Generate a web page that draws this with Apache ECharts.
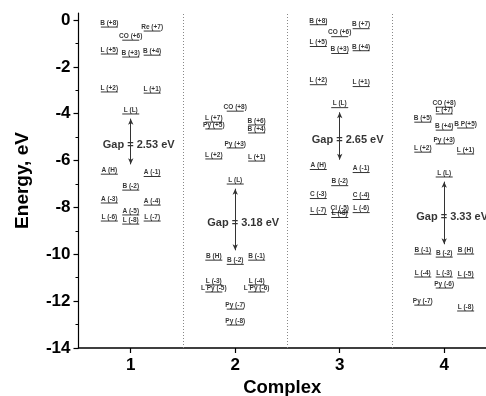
<!DOCTYPE html>
<html>
<head>
<meta charset="utf-8">
<script src="https://cdn.jsdelivr.net/npm/echarts@6/dist/echarts.min.js"></script>
<style>html,body{margin:0;padding:0;background:#fff}#c{width:486px;height:396px}</style>
</head>
<body>
<div id="c"></div>
<script>
// ---- data ----
const complexes = [1, 2, 3, 4];
const xTickLabels = ['1', '2', '3', '4'];
const yTickValues = [-14, -12, -10, -8, -6, -4, -2, 0];
const yMinorValues = [-13, -11, -9, -7, -5, -3, -1];
const gapValues = ['2.53', '3.18', '2.65', '3.33'];

// slot: -1 left column, 0 centre column, 1 right column
const c1Labels = ['B (+8)','Re (+7)','CO (+6)','L (+5)','B (+3)','B (+4)','L (+2)','L (+1)','L (L)','A (H)','A (-1)','B (-2)','A (-3)','A (-4)','A (-5)','L (-6)','L (-8)','L (-7)'];
const c1Energy = [-0.30,-0.47,-0.86,-1.45,-1.58,-1.50,-3.07,-3.12,-4.01,-6.58,-6.68,-7.26,-7.81,-7.90,-8.32,-8.58,-8.71,-8.58];
const c1Slot   = [-1,1,0,-1,0,1,-1,1,0,-1,1,0,-1,1,0,-1,0,1];

const c2Labels = ['CO (+8)','L (+7)','Py (+5)','B (+6)','B (+4)','Py (+3)','L (+2)','L (+1)','L (L)','B (H)','B (-2)','B (-1)','L (-3)','L Py (-5)','L (-4)','L Py (-6)','Py (-7)','Py (-8)'];
const c2Energy = [-3.89,-4.36,-4.65,-4.48,-4.82,-5.46,-5.93,-6.02,-7.00,-10.25,-10.43,-10.25,-11.31,-11.61,-11.31,-11.61,-12.34,-13.02];
const c2Slot   = [0,-1,-1,1,1,0,-1,1,0,-1,0,1,-1,-1,1,1,0,0];

const c3Labels = ['B (+8)','B (+7)','CO (+6)','L (+5)','B (+3)','B (+4)','L (+2)','L (+1)','L (L)','A (H)','A (-1)','B (-2)','C (-3)','C (-4)','L (-7)','Cl (-5)','L (-8)','L (-6)'];
const c3Energy = [-0.20,-0.37,-0.71,-1.13,-1.43,-1.31,-2.76,-2.84,-3.74,-6.38,-6.51,-7.07,-7.62,-7.66,-8.30,-8.22,-8.43,-8.22];
const c3Slot   = [-1,1,0,-1,0,1,-1,1,0,-1,1,0,-1,1,-1,0,0,1];

const c4Labels = ['CO (+8)','L (+7)','B (+5)','B (+4)','B P(+5)','Py (+3)','L (+2)','L (+1)','L (L)','B (-1)','B (-2)','B (H)','L (-4)','L (-3)','L (-5)','Py (-6)','Py (-7)','L (-8)'];
const c4Energy = [-3.72,-4.01,-4.36,-4.70,-4.61,-5.29,-5.64,-5.72,-6.70,-9.99,-10.12,-9.99,-10.97,-10.97,-11.01,-11.44,-12.17,-12.42];
const c4Slot   = [0,0,-1,0,1,0,-1,1,0,-1,0,1,-1,0,1,0,-1,1];

const allLabels = [c1Labels, c2Labels, c3Labels, c4Labels];
const allEnergy = [c1Energy, c2Energy, c3Energy, c4Energy];
const allSlot = [c1Slot, c2Slot, c3Slot, c4Slot];

// ---- chart ----
const SLOT_W = 0.205;
const FONT = '"Liberation Sans", Arial, sans-serif';
const series = [];
complexes.forEach((cx, i) => {
  const labels = allLabels[i], en = allEnergy[i], sl = allSlot[i];
  const data = labels.map((n, k) => ({ name: n, value: [cx + sl[k] * SLOT_W, en[k]] }));
  const lumo = en[labels.indexOf('L (L)')];
  const homoIdx = labels.findIndex(n => n.indexOf('(H)') >= 0);
  const homo = en[homoIdx];
  series.push({
    type: 'scatter',
    clip: false,
    symbol: 'rect',
    symbolSize: [17, 1],
    itemStyle: { color: '#000' },
    label: {
      show: true, position: 'top', distance: 0,
      formatter: p => p.name,
      fontSize: 6.5, fontWeight: 'bold', fontFamily: FONT, color: '#000'
    },
    data: data,
    silent: true,
    markLine: {
      silent: true,
      symbol: ['arrow', 'arrow'],
      symbolSize: [4, 6],
      label: { show: false },
      lineStyle: { color: '#333', width: 1, type: 'solid' },
      data: [[{ coord: [cx, lumo - 0.2] }, { coord: [cx, homo + 0.42] }]]
    }
  });
  series.push({
    type: 'scatter',
    clip: false,
    symbolSize: 0,
    silent: true,
    label: {
      show: true, position: 'inside', align: 'left', offset: [-28, 0],
      formatter: 'Gap = ' + gapValues[i] + ' eV',
      fontSize: 11, fontWeight: 'bold', fontFamily: FONT, color: '#000'
    },
    data: [[cx, (lumo + homo) / 2 - 0.05]]
  });
});
// dotted separators
series.push({
  type: 'line', data: [], silent: true,
  markLine: {
    silent: true, symbol: 'none', label: { show: false },
    lineStyle: { color: '#888', width: 1, type: [1, 2] },
    data: [{ xAxis: 1.5 }, { xAxis: 2.5 }, { xAxis: 3.5 }]
  }
});

const chart = echarts.init(document.getElementById('c'), null, { renderer: 'canvas' });
chart.setOption({
  animation: false,
  backgroundColor: '#fff',
  grid: { left: 78.5, right: 0, top: 13, bottom: 48, containLabel: false, outerBoundsMode: 'none' },
  xAxis: {
    type: 'value', min: 0.5, max: 4.4,
    name: 'Complex', nameLocation: 'middle', nameGap: 30,
    nameTextStyle: { fontSize: 18.5, fontWeight: 'bold', fontFamily: FONT, color: '#000' },
    axisLine: { onZero: false, lineStyle: { color: '#000', width: 1.5 } },
    axisTick: { show: true, length: 5, inside: false, customValues: complexes, lineStyle: { color: '#000', width: 1.2 } },
    axisLabel: { customValues: complexes, formatter: v => xTickLabels[complexes.indexOf(v)] || '', margin: 9,
      fontSize: 17, fontWeight: 'bold', fontFamily: FONT, color: '#000' },
    splitLine: { show: false }
  },
  yAxis: [{
    type: 'value', min: -14, max: 0.3,
    name: 'Energy, eV', nameLocation: 'middle', nameGap: 46,
    nameTextStyle: { fontSize: 19, fontWeight: 'bold', fontFamily: FONT, color: '#000' },
    axisLine: { show: true, onZero: false, lineStyle: { color: '#000', width: 1.2 } },
    axisTick: { show: true, length: 5, customValues: yTickValues, lineStyle: { color: '#000', width: 1.2 } },
    axisLabel: { customValues: yTickValues, margin: 8, fontSize: 17, fontWeight: 'bold', fontFamily: FONT, color: '#000' },
    splitLine: { show: false }
  }, {
    type: 'value', min: -14, max: 0.3, position: 'left',
    axisLine: { show: false },
    axisTick: { show: true, length: 3, customValues: yMinorValues, lineStyle: { color: '#000', width: 1 } },
    axisLabel: { show: false },
    splitLine: { show: false }
  }],
  series: series
});
</script>
</body>
</html>
